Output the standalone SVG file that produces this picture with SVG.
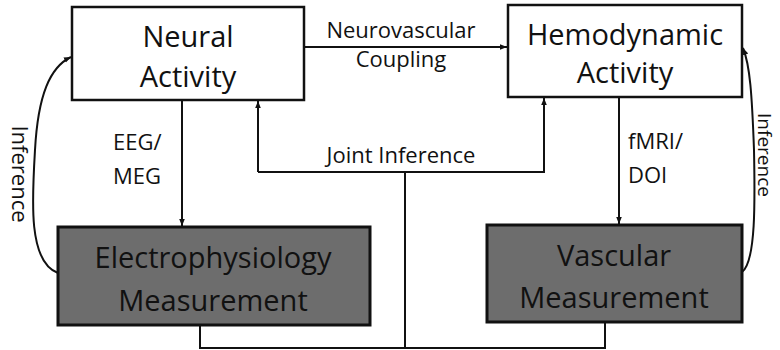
<svg xmlns="http://www.w3.org/2000/svg" width="780" height="350" viewBox="0 0 780 350">
<defs>
<marker id="ah" viewBox="0 0 10 10" refX="10" refY="5" markerWidth="7" markerHeight="7" orient="auto" markerUnits="userSpaceOnUse">
<path d="M0,1 L10,5 L0,9 z" fill="#111"/>
</marker>
<style>
.box{fill:#fff;stroke:#111;stroke-width:2.5}
.dark{fill:#6d6d6d;stroke:#111;stroke-width:3}
.bt{font-family:"Open Sans",sans-serif;font-size:29px;fill:#111;text-anchor:middle}
.lb{font-family:"Open Sans",sans-serif;font-size:22px;fill:#111}
.ln{fill:none;stroke:#111;stroke-width:2}
</style>
</defs>
<rect width="780" height="350" fill="#fff"/>
<g id="connectors">
<line class="ln" x1="304" y1="47" x2="507" y2="47" marker-end="url(#ah)"/>
<line class="ln" x1="182" y1="100" x2="182" y2="226" marker-end="url(#ah)"/>
<line class="ln" x1="619" y1="97" x2="619" y2="224" marker-end="url(#ah)"/>
<polyline class="ln" points="200,325 200,348 605,348 605,322"/>
<line class="ln" x1="405" y1="348" x2="405" y2="172"/>
<polyline class="ln" points="258,172 544,172 544,98" marker-end="url(#ah)"/>
<polyline class="ln" points="258,172 258,101" marker-end="url(#ah)"/>
<path class="ln" d="M58,273 C28,262 32,200 35,150 C38,95 50,67 71,57" marker-end="url(#ah)"/>
<path class="ln" d="M742,272 C756,262 755,200 754,150 C752,95 750,65 743,48" marker-end="url(#ah)"/>
<text class="lb" x="401" y="38" text-anchor="middle">Neurovascular</text>
<text class="lb" x="401" y="67" text-anchor="middle">Coupling</text>
<text class="lb" x="113" y="150">EEG/</text>
<text class="lb" x="113" y="184">MEG</text>
<text class="lb" x="628" y="149">fMRI/</text>
<text class="lb" x="628" y="183">DOI</text>
<text class="lb" x="401" y="163" text-anchor="middle">Joint Inference</text>
<text class="lb" transform="translate(12,174) rotate(90)" text-anchor="middle">Inference</text>
<text class="lb" transform="translate(758,155) rotate(90)" text-anchor="middle" style="font-size:19px">Inference</text>
</g>
<g id="neural">
<rect class="box" x="72" y="7" width="232" height="93"/>
<text class="bt" x="188" y="47">Neural</text>
<text class="bt" x="188" y="87">Activity</text>
</g>
<g id="hemodynamic">
<rect class="box" x="508" y="5" width="234" height="92"/>
<text class="bt" x="625" y="45">Hemodynamic</text>
<text class="bt" x="625" y="83">Activity</text>
</g>
<g id="electro">
<rect class="dark" x="58" y="227" width="312" height="98"/>
<text class="bt" x="213" y="268">Electrophysiology</text>
<text class="bt" x="213" y="311">Measurement</text>
</g>
<g id="vascular">
<rect class="dark" x="487" y="225" width="255" height="97"/>
<text class="bt" x="614" y="266">Vascular</text>
<text class="bt" x="614" y="308">Measurement</text>
</g>
</svg>
